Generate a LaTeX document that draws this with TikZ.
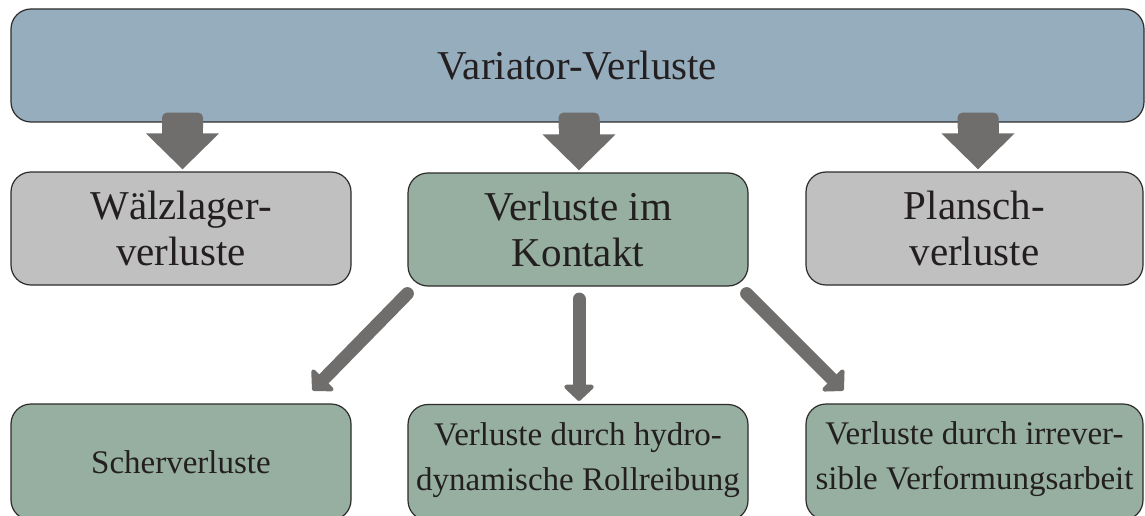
\documentclass[tikz,border=0pt]{standalone}
\usepackage{fontspec}
\setmainfont{Liberation Serif}
\usetikzlibrary{arrows.meta,calc}

\definecolor{topblue}{RGB}{150,173,190}
\definecolor{boxgray}{RGB}{192,192,192}
\definecolor{boxgreen}{RGB}{150,175,160}
\definecolor{arrowgray}{RGB}{112,110,109}
\definecolor{boxline}{RGB}{45,43,43}
\definecolor{textdark}{RGB}{35,31,32}

% wide block arrow from a box down to the box below it (#3: sideways offset)
\newcommand\blockarrow[3]{%
  \fill[arrowgray, rounded corners=5pt]
    ($(#1.south -| #2.north)+(#3-20.5,-10)$) rectangle ++(41,20);
  \draw[blockshaft] ($(#1.south -| #2.north)+(#3,-2)$) -- ($(#2.north)+(#3,-2)$);
}
% two centred lines, lifted slightly inside their box
\newcommand\twolines[2]{\raisebox{4pt}[\height][\depth]{\begin{tabular}{@{}c@{}}#1\\#2\end{tabular}}}

\begin{document}
\begin{tikzpicture}[x=1pt,y=-1pt,
  box/.style={draw=boxline, line width=1.2pt, rounded corners=20pt,
    inner sep=0pt, align=center, text=textdark},
  bigtext/.style={font=\fontsize{41}{46}\selectfont},
  smalltext/.style={font=\fontsize{33}{45}\selectfont},
  rowbox/.style={box, minimum width=340pt, minimum height=113pt},
  leafbox/.style={box, minimum width=340pt, minimum height=116pt, smalltext},
  blockshaft/.style={draw=arrowgray, line width=41pt,
    -{Triangle[width=71pt,length=36pt]}},
  thinarrow/.style={draw=arrowgray, line width=13pt, line cap=round,
    -{Triangle[width=35pt,length=17pt,round=false]}}]

\useasboundingbox (0,0) rectangle (1145,516);
\clip (0,0) rectangle (1145,516);

% main box
\node[box, fill=topblue, minimum width=1133pt, minimum height=113pt, bigtext]
  (top) at (577.5,65.5) {Variator-Verluste};

% second row
\node[rowbox, fill=boxgray, bigtext] (wl) at (181,228.5) {Wälzlager-\\verluste};
\node[rowbox, fill=boxgreen, bigtext] (vk) at (578,229.5) {Verluste im\\Kontakt};
\node[rowbox, fill=boxgray, bigtext, minimum width=337pt] (pv) at (974.5,228.5) {Plansch-\\verluste};

% third row
\node[leafbox, fill=boxgreen] (sv) at (181,462) {Scherverluste};
\node[leafbox, fill=boxgreen] (hr) at (578,462.5)
  {\twolines{Verluste durch hydro-}{dynamische Rollreibung}};
\node[leafbox, fill=boxgreen, minimum width=337pt] (iv) at (974.5,462)
  {\twolines{Verluste durch irrever-}{sible Verformungsarbeit}};

% block arrows from the main box
\blockarrow{top}{wl}{1.5}
\blockarrow{top}{vk}{1}
\blockarrow{top}{pv}{3.5}

% arrows from the contact losses
\draw[thinarrow] ($(vk.south west)+(0,7)$) -- ($(sv.north east)+(-39,-13)$);
\draw[thinarrow] ($(vk.south)+(1,12.5)$) -- ($(hr.north)+(1,-3)$);
\draw[thinarrow] ($(vk.south east)+(-2,7)$) -- ($(iv.north west)+(38,-13)$);

\end{tikzpicture}
\end{document}
